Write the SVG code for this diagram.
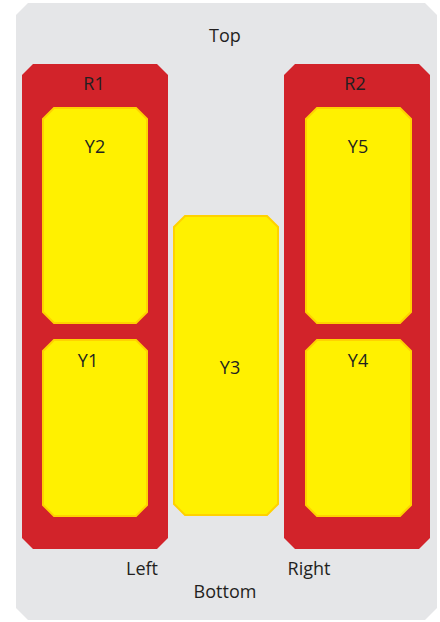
<svg xmlns="http://www.w3.org/2000/svg" width="440" height="622" viewBox="0 0 440 622">
<style>
.bg{fill:#e5e6e8}
.red{fill:#d2232a}
.yel{fill:#fff100;stroke:#ffd200;stroke-width:2}
text{font-family:"Open Sans","Liberation Sans",sans-serif;font-size:18px;fill:#231f20;text-anchor:middle}
</style>
<g id="bg"><polygon class="bg" points="28,3 425,3 437,15 437,608 425,620 28,620 16,608 16,15"/><text x="225" y="42">Top</text><text x="142" y="575">Left</text><text x="309" y="575">Right</text><text x="225" y="598">Bottom</text></g>
<g id="R1"><polygon class="red" points="33,64 157,64 168,75 168,538 157,549 33,549 22,538 22,75"/><text x="94" y="90">R1</text></g>
<g id="R2"><polygon class="red" points="295,64 419,64 430,75 430,538 419,549 295,549 284,538 284,75"/><text x="355" y="90">R2</text></g>
<g id="Y2"><polygon class="yel" points="54,108 136,108 147,119 147,312 136,323 54,323 43,312 43,119"/><text x="95" y="153">Y2</text></g>
<g id="Y1"><polygon class="yel" points="54,340 136,340 147,351 147,505 136,516 54,516 43,505 43,351"/><text x="88" y="367">Y1</text></g>
<g id="Y3"><polygon class="yel" points="185,216 267,216 278,227 278,504 267,515 185,515 174,504 174,227"/><text x="230" y="374">Y3</text></g>
<g id="Y5"><polygon class="yel" points="317,108 400,108 411,119 411,312 400,323 317,323 306,312 306,119"/><text x="358" y="153">Y5</text></g>
<g id="Y4"><polygon class="yel" points="317,340 400,340 411,351 411,505 400,516 317,516 306,505 306,351"/><text x="358" y="367">Y4</text></g>
<g id="connectors"/>
</svg>
